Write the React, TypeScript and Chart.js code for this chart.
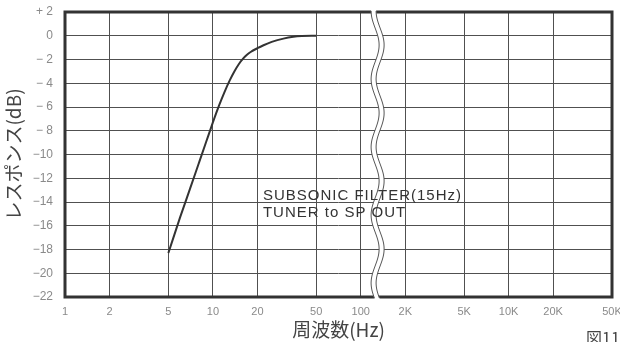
import { useEffect, useRef } from "react";
import { Chart, registerables } from "chart.js";

Chart.register(...registerables);

// Measured response of the subsonic filter (frequency in Hz, response in dB)
const freqHz = [5, 6, 7, 8, 9, 10, 11, 12, 13, 14, 15, 16, 17, 18, 20, 22, 25, 30, 35, 40, 50];
const responseDb = [-18.3, -15.3, -12.9, -10.8, -8.95, -7.3, -5.89, -4.72, -3.76, -2.99, -2.38, -1.93, -1.61, -1.37, -1.05, -0.8, -0.52, -0.24, -0.09, -0.03, 0];

// The x axis is broken between 100 Hz and 2 kHz: frequencies >= 1 kHz are placed at f/10.
const xTickValues = [1, 2, 5, 10, 20, 50, 100, 200, 500, 1000, 2000, 5000];
const xTickLabels = ["1", "2", "5", "10", "20", "50", "100", "2K", "5K", "10K", "20K", "50K"];
const yTickValues = [2, 0, -2, -4, -6, -8, -10, -12, -14, -16, -18, -20, -22];
const yTickLabels = ["+ 2", "0", "− 2", "− 4", "− 6", "− 8", "−10", "−12", "−14", "−16", "−18", "−20", "−22"];
const BREAK_AT = 130;

const annotationLines = ["SUBSONIC FILTER(15Hz)", "TUNER to SP OUT"];
const figureLabel = "図11";

const decorPlugin = {
  id: "decor",
  afterDraw(chart: any) {
    const { ctx, chartArea: a, scales } = chart;
    const xs = scales.x;
    const ys = scales.y;
    ctx.save();
    // frame
    ctx.strokeStyle = "#333";
    ctx.lineWidth = 3;
    ctx.strokeRect(a.left, a.top, a.right - a.left, a.bottom - a.top);

    // axis break (double wavy line)
    const cx = xs.getPixelForValue(BREAK_AT);
    const top = a.top - 3;
    const bottom = a.bottom + 3;
    const wave = (y: number) => cx + 4 * Math.sin((2 * Math.PI * (y - 28)) / 68);
    const half = 2.5;
    ctx.beginPath();
    for (let y = top; y <= bottom; y++) ctx.lineTo(wave(y) - half, y);
    for (let y = bottom; y >= top; y--) ctx.lineTo(wave(y) + half, y);
    ctx.closePath();
    ctx.fillStyle = "#fff";
    ctx.fill();
    ctx.lineWidth = 1;
    ctx.strokeStyle = "#555";
    for (const s of [-half, half]) {
      ctx.beginPath();
      for (let y = top + 2; y <= bottom - 2; y++) ctx.lineTo(wave(y) + s, y);
      ctx.stroke();
    }

    // annotation
    ctx.fillStyle = "#333";
    ctx.font = '15px "Liberation Sans", Arial, sans-serif';
    (ctx as any).letterSpacing = "1px";
    ctx.textAlign = "left";
    ctx.textBaseline = "alphabetic";
    const tx = xs.getPixelForValue(21.8);
    const ty = ys.getPixelForValue(-13.8);
    annotationLines.forEach((t, i) => ctx.fillText(t, tx, ty + i * 17));

    // figure number
    (ctx as any).letterSpacing = "0px";
    ctx.fillStyle = "#444";
    ctx.font = '16px "Noto Sans CJK JP", sans-serif';
    ctx.textBaseline = "top";
    ctx.fillText(figureLabel, 586, 330);
    ctx.restore();
  },
};

export default function App() {
  const ref = useRef<HTMLCanvasElement | null>(null);
  useEffect(() => {
    if (!ref.current) return;
    const tickFont = { family: '"Liberation Sans", Arial, sans-serif', size: 11 };
    const yTickFont = { family: '"Liberation Sans", Arial, sans-serif', size: 12 };
    const titleFont = { family: '"Noto Sans CJK JP", sans-serif', size: 19 };
    const chart = new Chart(ref.current, {
      type: "line",
      data: {
        datasets: [
          {
            data: freqHz.map((f, i) => ({ x: f, y: responseDb[i] })),
            borderColor: "#333",
            borderWidth: 2,
            pointRadius: 0,
            cubicInterpolationMode: "monotone",
            fill: false,
          },
        ],
      },
      options: {
        responsive: false,
        animation: false,
        events: [],
        layout: { padding: { top: 12, right: 8, left: 0, bottom: 0 }, autoPadding: false },
        plugins: { legend: { display: false }, tooltip: { enabled: false } },
        scales: {
          x: {
            type: "logarithmic",
            min: 1,
            max: 5000,
            afterBuildTicks: (s: any) => {
              s.ticks = xTickValues.map((v) => ({ value: v }));
            },
            afterFit: (s: any) => {
              s.height = 45;
              s.paddingLeft = 0;
              s.paddingRight = 0;
              s.paddingTop = 0;
              s.paddingBottom = 0;
            },
            grid: { color: "#505050", lineWidth: 1, drawTicks: false },
            border: { display: false },
            ticks: {
              autoSkip: false,
              maxRotation: 0,
              padding: 8,
              color: "#8a8a8a",
              font: tickFont,
              callback: (v: any) => {
                const i = xTickValues.indexOf(Number(v));
                return i >= 0 ? xTickLabels[i] : "";
              },
            },
            title: {
              display: true,
              text: "周波数(Hz)",
              color: "#444",
              font: titleFont,
              padding: { top: 0, bottom: 1 },
            },
          },
          y: {
            type: "linear",
            min: -22,
            max: 2,
            afterFit: (s: any) => {
              s.width = 65;
              s.paddingLeft = 0;
              s.paddingRight = 0;
              s.paddingTop = 0;
              s.paddingBottom = 0;
            },
            grid: { color: "#505050", lineWidth: 1, drawTicks: false },
            border: { display: false },
            ticks: {
              stepSize: 2,
              padding: 12,
              color: "#8a8a8a",
              font: yTickFont,
              callback: (v: any) => {
                const i = yTickValues.indexOf(Number(v));
                return i >= 0 ? yTickLabels[i] : "";
              },
            },
            title: {
              display: true,
              text: "レスポンス(dB)",
              color: "#444",
              font: titleFont,
              padding: { top: 2, bottom: 0 },
            },
          },
        },
      },
      plugins: [decorPlugin],
    } as any);
    return () => chart.destroy();
  }, []);
  return (
    <div style={{ position: "absolute", left: 0, top: 0, width: 620, height: 342, background: "#fff" }}>
      <canvas ref={ref} width={620} height={342} style={{ display: "block" }} />
    </div>
  );
}
